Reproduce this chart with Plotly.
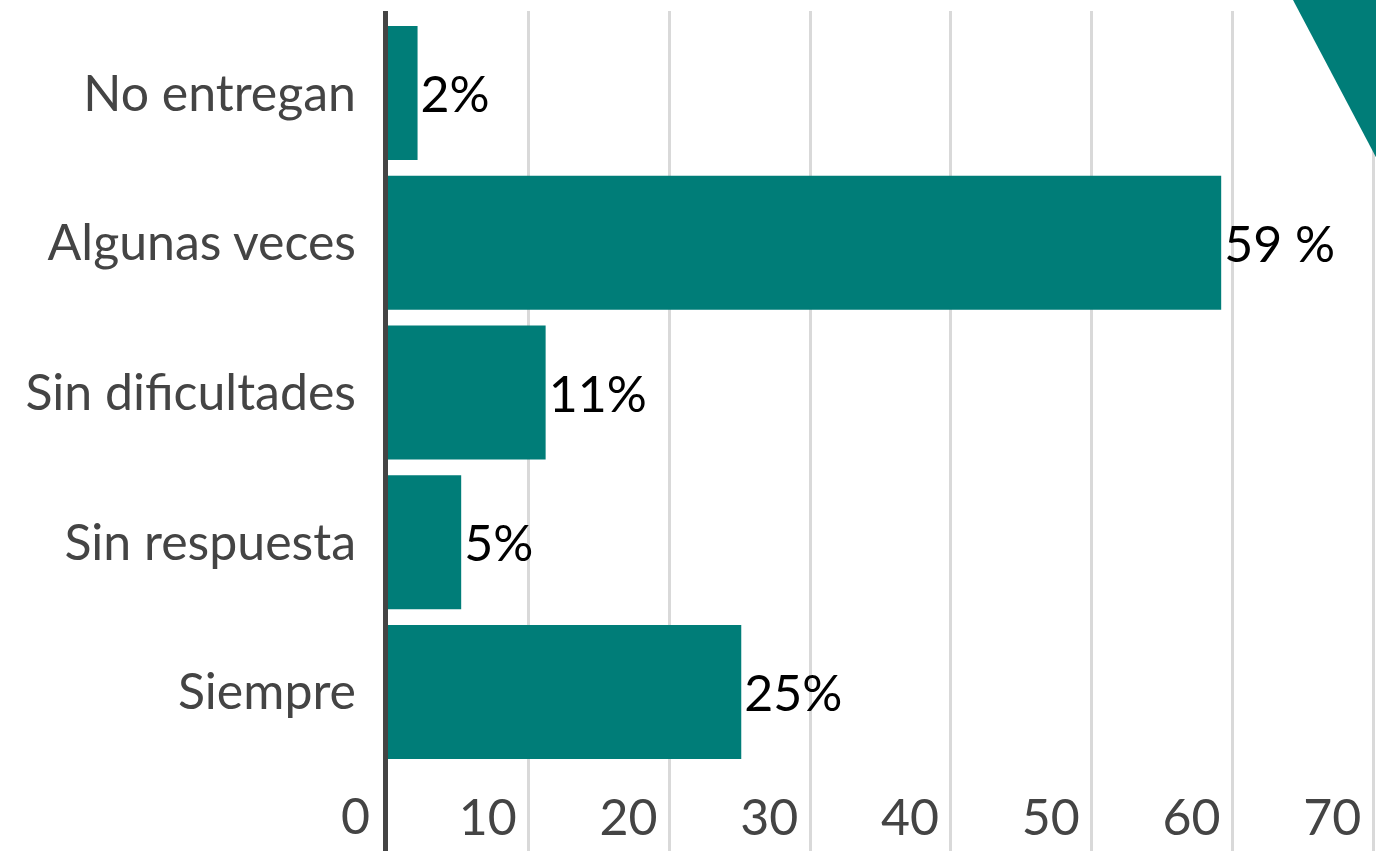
import plotly.graph_objects as go

categories = ["No entregan", "Algunas veces", "Sin dificultades", "Sin respuesta", "Siempre"]
values = [2.1, 59.2, 11.2, 5.2, 25.1]
labels = ["2%", "59 %", "11%", "5%", "25%"]
x_ticks = [0, 10, 20, 30, 40, 50, 60, 70]

TEAL = "#007D78"
FONT = "Lato"
FSIZE = 50

fig = go.Figure(
    go.Bar(
        x=values,
        y=categories,
        orientation="h",
        marker=dict(color=TEAL, line=dict(width=0)),
        text=labels,
        textposition="outside",
        textfont=dict(family=FONT, size=FSIZE, color="#000000"),
        cliponaxis=False,
        hoverinfo="skip",
    )
)

fig.update_layout(
    width=1376,
    height=851,
    margin=dict(l=388, r=0, t=11, b=0, pad=0),
    paper_bgcolor="white",
    plot_bgcolor="white",
    bargap=0.105,
    showlegend=False,
    font=dict(family=FONT, size=FSIZE, color="#444444"),
    shapes=[
        dict(
            type="path",
            xref="paper",
            yref="paper",
            path="M 0.916 1.0131 L 1.0 1.0131 L 1.0 0.826 Z",
            fillcolor=TEAL,
            line=dict(width=0),
            layer="above",
        )
    ],
    annotations=[
        dict(
            x=x_ticks[0],
            xref="x",
            y=0,
            yref="paper",
            text=str(x_ticks[0]),
            showarrow=False,
            xanchor="right",
            yanchor="bottom",
            xshift=-16,
            yshift=4,
            font=dict(family=FONT, size=FSIZE, color="#444444"),
        )
    ],
)

fig.update_xaxes(
    range=[0, 70.2],
    tickvals=x_ticks,
    ticktext=[str(v) for v in x_ticks],
    showgrid=True,
    gridcolor="#D9D9D9",
    gridwidth=3,
    zeroline=False,
    showline=False,
    ticks="",
    ticklabelposition="inside left",
    ticklabelshift=-12,
    tickfont=dict(family=FONT, size=FSIZE, color="#444444"),
)

fig.update_yaxes(
    categoryorder="array",
    categoryarray=categories,
    range=[5.062, -0.548],
    showgrid=False,
    zeroline=False,
    showline=True,
    linecolor="#444444",
    linewidth=5,
    ticks="",
    ticklabelstandoff=17,
    tickfont=dict(family=FONT, size=FSIZE, color="#444444"),
)

fig.write_html(
    "out.html",
    include_plotlyjs=True,
    full_html=True,
    config={"displayModeBar": False},
    post_script="document.body.style.margin='0';document.body.style.overflow='hidden';",
)
